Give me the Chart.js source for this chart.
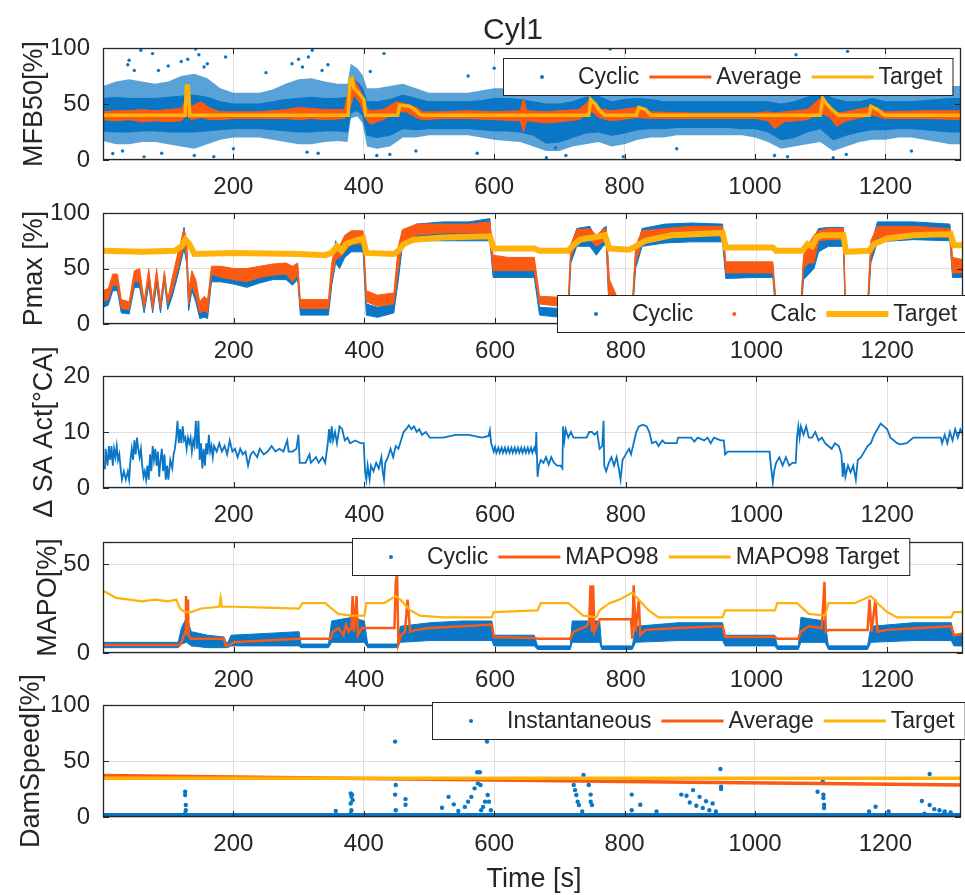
<!DOCTYPE html>
<html>
<head>
<meta charset="utf-8">
<title>Cyl1</title>
<script src="https://cdn.jsdelivr.net/npm/chart.js@4.4.1/dist/chart.umd.min.js"></script>
<style>
  body { margin: 0; background: #fff; width: 965px; height: 895px; position: relative; overflow: hidden;
         font-family: "Liberation Sans", Arial, Helvetica, sans-serif; color: #262626; }
  canvas { position: absolute; left: 0; }
  #title { position: absolute; left: 413px; top: 14px; width: 200px; text-align: center; font-size: 30px; line-height: 30px; z-index: 5; }
  #xlab { position: absolute; left: 434px; top: 865px; width: 200px; text-align: center; font-size: 27px; line-height: 27px; z-index: 5; }
</style>
</head>
<body>
<div id="title">Cyl1</div>
<div id="xlab">Time [s]</div>
<canvas id="p1"></canvas>
<canvas id="p2"></canvas>
<canvas id="p3"></canvas>
<canvas id="p4"></canvas>
<canvas id="p5"></canvas>
<script>
// ---- data (time in s) ----

const xTicks = [200, 400, 600, 800, 1000, 1200];

// MFB50 [%] : cyclic cloud (dense core + sparse outer), average trace range, target
const mfbT = [0,20,40,60,80,100,120,140,160,180,200,220,240,260,280,300,320,340,360,375,380,390,398,405,420,440,460,480,500,520,540,560,580,600,620,640,660,680,700,720,740,760,780,800,820,840,860,880,900,920,940,960,980,1000,1020,1040,1060,1080,1100,1120,1140,1160,1180,1200,1220,1240,1260,1280,1300,1320];
const mfbCoreLo = [26,25,25,26,26,25,25,25,26,27,28,28,28,27,26,25,25,26,26,25,42,44,40,22,20,22,28,27,28,28,28,28,27,26,26,25,22,15,16,20,24,25,22,24,27,28,28,29,29,29,29,29,28,28,25,18,20,25,28,18,22,25,27,27,28,28,27,26,25,25];
const mfbCoreHi = [55,56,55,55,55,56,57,58,56,52,50,50,50,52,54,55,56,55,55,56,72,70,64,52,52,54,58,55,52,52,52,52,53,55,55,54,52,50,50,52,56,57,52,54,55,54,52,52,52,52,52,52,52,52,52,50,52,56,60,55,52,52,55,52,52,52,53,54,55,55];
const mfbOutLo = [17,14,14,16,16,14,12,10,14,18,20,20,20,18,16,14,14,16,17,16,37,39,33,12,10,12,20,20,22,22,22,22,20,18,17,16,12,8,8,12,14,16,12,14,18,20,20,22,22,22,22,22,22,20,16,10,12,14,16,8,12,16,18,18,20,20,18,16,14,14];
const mfbOutHi = [66,70,72,70,68,70,75,77,73,64,60,60,60,63,68,72,73,70,68,68,86,82,76,64,64,66,68,64,60,60,60,60,62,64,64,62,60,58,58,60,64,66,60,62,64,62,60,60,60,60,60,60,60,60,60,60,62,66,70,64,60,60,63,62,60,60,62,64,66,66];
const mfbOutliers = [[15,5.8],[30,8],[38,85],[40,89],[48,80],[58,98],[63,2.8],[76,95],[85,80],[90,6],[100,84],[120,88],[130,90],[140,4],[142,99],[147,94],[155,83],[160,86],[170,3],[188,92],[200,10],[250,78],[290,86],[300,90],[306,83],[313,7],[315,92],[321,98],[330,6],[336,80],[345,85],[410,79],[420,4],[431,95],[440,5],[480,8],[560,75],[574,6],[600,82],[620,78],[668,76],[680,2],[694,11],[700,72],[710,4],[760,80],[778,99],[798,3],[820,78],[880,10],[930,74],[1000,75],[1030,4],[1050,3],[1063,94],[1110,82],[1120,2],[1140,5],[1142,97],[1150,80],[1200,76],[1240,8],[1290,80],[1300,78]];
const mfbAvgT = [0,20,40,60,80,100,120,128,135,150,165,180,200,240,280,300,320,340,370,378,385,395,402,410,430,450,465,480,490,520,560,600,640,645,650,680,700,730,748,760,780,820,840,900,1000,1020,1030,1045,1080,1100,1115,1125,1140,1180,1200,1260,1320];
const mfbAvgLo = [36,35,36,34,35,34,35,40,36,38,36,36,37,37,37,36,37,36,37,45,58,50,38,32,36,43,43,38,36,37,37,36,35,25,35,33,34,36,44,38,35,38,37,37,37,35,28,34,36,42,38,30,35,40,37,37,36];
const mfbAvgHi = [43,44,44,45,44,45,46,55,48,52,46,43,43,43,45,47,46,45,45,68,72,62,48,44,45,52,50,47,43,43,44,43,44,55,44,43,44,45,54,46,44,47,43,42,42,43,42,43,45,55,48,42,43,48,43,44,44];
const mfbTgtT = [0,126,128,131,133,376,379,382,385,392,400,403,452,455,470,478,485,490,745,748,755,762,770,818,822,832,840,1100,1104,1110,1118,1128,1175,1178,1188,1196,1200,1316];
const mfbTgtV = [40,40,66,66,40,40,72,73,64,60,54,40,40,49,48,45,41,40,40,54,50,44,40,40,47,45,40,40,55,50,45,40,40,48,45,41,40,40];

// Pmax [%] : cyclic and calc ranges, target
const pT = [0,8,15,22,28,40,48,56,63,70,76,82,88,94,99,106,115,124,128,131,136,142,148,155,160,166,180,200,220,240,260,280,290,298,302,345,350,356,362,370,380,398,403,420,445,452,458,480,520,560,592,597,620,660,668,700,712,716,725,745,755,765,770,775,790,810,815,825,860,900,948,953,1000,1025,1030,1068,1072,1080,1088,1095,1110,1133,1136,1170,1175,1185,1240,1296,1300,1316];
const pCalcLo = [20,22,35,35,14,13,38,38,14,40,13,40,14,42,18,30,50,72,60,18,35,25,10,12,10,45,42,40,38,42,44,45,38,44,14,14,40,58,60,65,72,72,20,16,18,50,75,80,82,82,82,48,48,48,18,16,16,60,75,76,70,74,76,10,12,12,55,74,78,80,80,46,46,46,12,12,50,55,55,75,76,76,12,12,60,78,80,78,46,46];
const pCalcHi = [30,32,45,45,22,20,48,50,20,50,20,50,20,48,22,42,65,85,75,30,48,40,20,25,22,52,52,50,50,52,54,55,52,55,22,22,55,72,70,80,84,84,30,26,28,70,85,90,90,90,92,62,60,60,25,24,24,72,85,86,80,85,86,40,20,20,70,84,86,88,88,56,56,56,20,20,62,72,80,84,86,86,22,20,75,88,88,86,60,58];
const pCycLo = [15,17,30,30,10,9,33,33,10,35,10,35,10,38,13,25,45,68,55,12,30,20,5,6,5,38,38,36,33,37,40,40,35,40,8,8,35,55,50,60,65,65,8,6,10,40,70,75,75,75,75,42,42,42,8,6,6,55,70,70,62,70,72,5,6,6,50,70,73,74,74,41,42,42,6,6,40,45,50,65,70,70,6,6,55,74,76,75,42,42];
const pCycHi = [28,30,42,42,18,17,45,46,17,46,17,46,17,45,20,38,60,87,72,28,44,36,15,18,15,48,46,45,44,46,48,48,47,48,14,14,50,75,65,75,82,80,18,15,18,65,82,90,92,92,95,56,55,56,15,14,14,70,86,88,75,86,88,30,14,14,65,86,90,91,90,52,52,52,14,14,58,70,78,86,87,87,14,14,70,92,92,90,56,56];
const pTgtT = [0,60,110,120,126,132,140,200,300,340,350,358,365,372,385,398,403,445,452,460,475,520,592,598,660,668,712,718,730,750,768,775,805,815,830,870,948,953,1025,1030,1070,1078,1085,1092,1100,1133,1137,1172,1180,1200,1240,1297,1302,1316];
const pTgtV = [66,65,66,70,76,72,63,64,63,62,64,70,66,72,75,77,64,63,66,72,76,78,79,68,68,66,66,70,76,78,80,68,67,70,75,80,82,69,69,66,66,72,70,78,80,80,65,66,72,77,80,81,71,71];

// Delta SA Act [degCA] : [time, value]
const saLine = [[0,3.5],[3,3.5],[4,7],[7,4],[9,7.5],[11,5],[13,7.5],[15,4],[17,7],[19,5.5],[21,7.5],[23,5],[25,6],[27,3.5],[29,1.5],[32,3],[35,1.5],[38,3],[40,1.5],[42,5],[44,7],[46,5],[48,8.5],[50,6],[52,9],[54,7],[56,5.5],[58,7],[60,4],[62,2],[64,3],[66,1.5],[68,4],[70,1.5],[72,6],[74,3],[76,7.5],[78,5],[80,7],[82,4],[84,6.5],[86,2],[88,5],[90,7],[92,3],[94,6],[96,1.5],[98,4],[100,1.5],[103,5],[106,3.5],[108,6],[110,7],[112,9],[114,12],[116,8],[118,10.5],[120,8],[122,11],[124,8.5],[126,9],[128,7],[130,9],[132,8],[134,9],[136,6.5],[138,8.5],[140,7.5],[142,12],[144,7],[146,12],[148,5],[150,8],[152,3.5],[154,7],[156,4],[158,8],[160,6],[162,9.5],[164,6.5],[166,7.5],[168,5.5],[170,7.5],[174,6.5],[178,8],[182,6.5],[186,7.5],[190,6],[194,8.5],[198,6.5],[202,7],[206,5.5],[210,7],[214,6],[218,6.5],[222,4],[226,6],[230,6.5],[236,5.5],[240,7],[246,6],[252,6.5],[258,7.5],[264,6.5],[270,7],[276,6.5],[282,8.5],[284,6.5],[290,6.5],[296,7],[299,9.5],[301,4.5],[310,4.5],[316,6],[318,4.5],[326,5.5],[330,4.5],[336,5.5],[340,4.5],[344,8],[346,10.5],[348,8],[350,11],[352,8.5],[355,10],[358,8],[362,11],[366,10.5],[370,8.5],[374,9],[378,8],[386,8.5],[394,8],[399,8],[401,3],[403,1.5],[405,4],[408,1.5],[410,4],[414,3],[418,4.5],[422,3.5],[426,5.5],[428,3],[430,1.5],[432,4.5],[436,5.5],[440,7],[444,5.5],[448,7.5],[452,7],[456,8.5],[460,10],[464,10.5],[468,11.2],[472,10.5],[476,11],[480,10],[484,10.5],[488,9.5],[494,10],[500,9],[520,9],[540,9.5],[560,9.5],[580,9],[590,9.3],[592,10.3],[594,8],[598,6.5],[600,7.3],[602,6.3],[605,7.2],[607,6.3],[610,7.2],[612,6.3],[615,7.2],[617,6.3],[620,7.2],[622,6.3],[625,7.2],[627,6.3],[630,7.2],[632,6.3],[635,7.2],[637,6.3],[640,7.2],[642,6.3],[645,7.2],[647,6.3],[650,7.2],[652,6.3],[655,7.2],[657,6.3],[660,7.2],[662,6.5],[663,10],[665,2],[667,4],[670,5],[674,4.5],[678,5.5],[682,4.2],[686,5.5],[690,4.5],[695,4],[700,4],[703,3.5],[704,11],[706,8.5],[708,10.5],[712,9],[716,10],[720,9],[730,9],[740,9],[744,10],[748,10],[752,9.5],[756,10],[760,7],[764,7.5],[766,12],[767,4],[770,3],[774,4.5],[778,5.5],[782,4],[786,5.5],[790,3],[792,1.5],[795,5],[800,6],[805,7],[808,6],[812,8],[816,10],[820,11],[826,11.3],[832,11],[836,10],[840,8],[846,8.3],[850,7.5],[856,8.5],[860,8],[878,8],[880,9],[900,9],[905,8.3],[910,9],[920,8.5],[925,9],[930,8],[935,9],[945,8.5],[950,8.5],[952,6],[956,6.5],[965,6.5],[1000,6.5],[1020,6.5],[1022,4],[1025,1],[1027,3],[1030,4.5],[1035,5.5],[1040,4],[1045,5.5],[1050,4],[1055,4.5],[1060,4.5],[1062,9],[1064,11],[1066,9],[1068,11],[1072,9.5],[1076,11],[1080,9],[1085,9],[1090,10],[1095,8.5],[1100,9],[1105,8],[1110,7.5],[1115,7],[1120,8],[1126,7.5],[1130,6],[1132,2],[1134,4.5],[1136,2],[1140,4],[1144,2.8],[1148,4],[1152,1.5],[1155,5],[1160,5.5],[1165,6.5],[1170,7.5],[1175,8],[1180,9.5],[1185,10.5],[1190,11.5],[1195,11],[1200,10.5],[1205,9],[1210,8.5],[1215,8],[1220,7.8],[1230,8],[1240,9],[1270,9],[1282,9],[1284,8],[1288,9.5],[1292,8],[1296,10],[1300,8.5],[1304,10.5],[1308,9],[1312,10.5],[1316,9.5]];

// MAPO [%] : cyclic range, MAPO98, MAPO98 target
const mapoT = [0,115,120,128,135,160,185,190,196,250,300,303,345,350,380,400,405,450,455,500,550,595,598,660,665,715,718,760,763,810,815,880,948,952,1028,1032,1064,1068,1105,1110,1170,1175,1240,1298,1302,1316];
const mapoLo = [3,3,5,6,4,3,3,3,4,4,4,3,3,6,6,6,3,3,6,7,7,7,4,4,2,2,6,6,2,2,6,7,7,4,4,2,2,6,6,2,2,6,7,7,4,4];
const mapoHi = [6,6,14,20,12,10,9,5,10,11,12,5,5,18,20,18,5,5,15,17,18,18,10,10,4,4,18,18,4,4,15,17,17,10,10,4,4,20,18,4,4,15,17,17,10,10];
const m98T = [0,118,122,126,127,128,130,131,134,185,188,196,200,250,300,348,352,360,368,372,376,380,382,384,388,390,396,402,446,448,450,452,456,462,466,470,480,500,550,595,598,660,665,715,720,740,744,746,748,750,752,760,808,810,812,815,820,822,830,880,948,952,1028,1032,1064,1068,1080,1100,1104,1106,1110,1170,1173,1176,1182,1185,1200,1250,1298,1302,1316];
const m98V = [4.5,4.5,8,12,32,10,30,10,8,8,4,5,6,7,8,8,12,14,10,16,12,14,32,12,32,10,14,14,14,40,44,5,10,12,30,12,13,14,15,16,9,8.5,8,8,12,15,18,38,12,38,12,19,19,8,38,12,30,10,13,14,15,9,9,8,8,12,15,14,40,12,13,13,30,12,30,12,13,14,15,10,11];
const m98TgtT = [0,10,20,40,60,80,100,112,118,125,135,150,178,180,182,200,250,300,305,340,350,360,380,400,403,430,448,455,470,485,520,595,598,665,670,712,735,755,760,775,790,810,820,835,850,948,952,1028,1032,1062,1080,1105,1110,1150,1175,1185,1200,1215,1298,1302,1316];
const m98TgtV = [35,33,31,30,29,30,29,30,25,23,23,25,26,31,26,26,25.5,25,28,28,25,22,21,21,28,28,32,30,24,21,20,20,23,24,28,28,21,20,24,28,30,34,30,24,20,20,24,24,28,28,22,21,28,28,32,28,23,20,20,23,23];

// DamSpeed [%] : instantaneous (mostly 0 plus scattered points), average, target
const dsBaseT = [0, 1316];
const dsBaseV = [0, 0];
const dsInst = [[126,22.7],[126,19.6],[127,10.7],[127,6.1],[126,3.1],[357,5.4],[380,21],[381,18],[380,12],[381,6],[380,3],[382,20],[383,15],[448,67.3],[449,28.6],[448,20],[449,6],[464,16],[464,11],[520,8.3],[530,18],[538,11.3],[545,5.4],[555,9],[560,13.7],[565,18],[570,25.6],[575,30],[578,40],[580,6],[583,9],[586,13.7],[589,67.3],[574,40],[579,28.6],[590,19.6],[592,13.7],[595,6],[722,28.6],[724,24],[726,19.6],[728,13.7],[730,10.7],[735,5],[737,37.5],[745,28.6],[748,20],[748,13.7],[750,10.7],[811,20],[811,6],[824,11],[849,5],[887,20],[895,19],[900,13],[905,24],[910,10],[915,18],[920,8],[925,14],[930,6],[935,12],[940,5],[947,42.9],[948,27],[948,25],[1096,22.6],[1104,31.5],[1105,20],[1105,17],[1106,11],[1106,8],[1175,5],[1185,9.2],[1205,5],[1256,14.3],[1268,38.4],[1268,10.7],[1275,7],[1283,6],[1291,5],[1260,3],[1290,3],[1300,4]];
const dsAvgT = [0, 300, 600, 900, 1100, 1316];
const dsAvgV = [37, 35, 33, 31, 30, 28.6];
const dsTgtT = [0, 1316];
const dsTgtV = [34.5, 34.5];

// ---- drawing ----

const FONT = '"Liberation Sans", Arial, Helvetica, sans-serif';
const INK = '#262626';
const GRID = '#dfdfdf';
const BLUE = '#0a76c6';
const BLUE_SOFT = 'rgba(10,118,198,0.68)';
const ORANGE = '#fa5a12';
const YELLOW = '#ffb30a';

Chart.defaults.font.family = FONT;

function xy(t, v) { return t.map((x, i) => ({ x: x, y: v[i] })); }
function xyPairs(p) { return p.map(q => ({ x: q[0], y: q[1] })); }

function band(t, lo, hi, color, order, edge) {
  return [
    { data: xy(t, lo), borderColor: edge ? color : 'transparent', borderWidth: 1, pointRadius: 0, order: order },
    { data: xy(t, hi), borderColor: edge ? color : 'transparent', borderWidth: 1, pointRadius: 0, order: order,
      fill: '-1', backgroundColor: color }
  ];
}
function line(t, v, color, w, order) {
  return { data: xy(t, v), borderColor: color, borderWidth: w, pointRadius: 0, order: order };
}
function dots(p, color, r, order) {
  return { data: xyPairs(p), showLine: false, pointRadius: r, pointBackgroundColor: color,
           pointBorderWidth: 0, order: order };
}

// box + inward ticks like the original axes
const frame = {
  id: 'frame',
  afterDatasetsDraw(chart) {
    const { ctx, chartArea: a, scales } = chart;
    ctx.save();
    ctx.strokeStyle = INK;
    ctx.lineWidth = 1;
    ctx.beginPath();
    scales.x.ticks.forEach(t => {
      const x = Math.round(scales.x.getPixelForValue(t.value)) + 0.5;
      ctx.moveTo(x, a.top); ctx.lineTo(x, a.top + 6);
      ctx.moveTo(x, a.bottom); ctx.lineTo(x, a.bottom - 6);
    });
    scales.y.ticks.forEach(t => {
      const y = Math.round(scales.y.getPixelForValue(t.value)) + 0.5;
      ctx.moveTo(a.left, y); ctx.lineTo(a.left + 6, y);
      ctx.moveTo(a.right, y); ctx.lineTo(a.right - 6, y);
    });
    ctx.stroke();
    ctx.lineWidth = 1.3;
    ctx.strokeRect(a.left + 0.5, a.top + 0.5, a.width - 1, a.height - 1);
    ctx.restore();
  }
};

function legendBox(spec) {
  return {
    id: 'mlLegend',
    afterDraw(chart) {
      if (!spec) return;
      const ctx = chart.ctx, a = chart.chartArea;
      ctx.save();
      ctx.font = '23px ' + FONT;
      let w = 8;
      spec.items.forEach(it => { w += 67 + ctx.measureText(it.label).width + 10; });
      const x0 = spec.left, y0 = a.top + spec.dy, h = 37;
      ctx.fillStyle = '#fff';
      ctx.fillRect(x0, y0, w, h);
      ctx.strokeStyle = INK;
      ctx.lineWidth = 1;
      ctx.strokeRect(x0 + 0.5, y0 + 0.5, w, h);
      let x = x0 + 8;
      const cy = y0 + h / 2 + 0.5;
      spec.items.forEach(it => {
        if (it.kind === 'dot') {
          ctx.fillStyle = it.color;
          ctx.beginPath(); ctx.arc(x + 31, cy, 2, 0, Math.PI * 2); ctx.fill();
        } else {
          ctx.strokeStyle = it.color; ctx.lineWidth = it.width;
          ctx.beginPath(); ctx.moveTo(x, cy); ctx.lineTo(x + 62, cy); ctx.stroke();
        }
        x += 67;
        ctx.fillStyle = INK;
        ctx.textBaseline = 'middle';
        ctx.fillText(it.label, x, cy + 1);
        x += ctx.measureText(it.label).width + 10;
      });
      ctx.restore();
    }
  };
}

function panel(id, top, h, y, datasets, legend) {
  const cv = document.getElementById(id);
  cv.width = 965;
  cv.height = h + 120;
  cv.style.top = (top - 60) + 'px';
  return new Chart(cv, {
    type: 'line',
    data: { datasets: datasets },
    options: {
      responsive: false,
      animation: false,
      devicePixelRatio: 1,
      events: [],
      layout: { padding: { top: 60, bottom: 20, left: 0, right: 2 } },
      plugins: { legend: { display: false }, tooltip: { enabled: false } },
      elements: { line: { tension: 0 } },
      scales: {
        x: {
          type: 'linear', min: 0, max: 1316,
          afterBuildTicks: s => { s.ticks = xTicks.map(v => ({ value: v })); },
          afterFit: s => { s.height = 40; },
          grid: { color: GRID, drawTicks: false },
          border: { display: false },
          ticks: { autoSkip: false, maxRotation: 0, padding: 13, color: INK, font: { size: 24 },
                   callback: v => String(v) }
        },
        y: {
          min: y.min, max: y.max,
          afterBuildTicks: s => { s.ticks = y.ticks.map(v => ({ value: v })); },
          afterFit: s => { s.width = 103; },
          grid: { color: GRID, drawTicks: false },
          border: { display: false },
          ticks: { padding: 13, color: INK, font: { size: 24 }, callback: v => String(v) },
          title: { display: true, text: y.title, color: INK, font: { size: 27 },
                   padding: { top: y.tp, bottom: 0 } }
        }
      }
    },
    plugins: [frame, legendBox(legend)]
  });
}

panel('p1', 48, 112,
  { min: 0, max: 100, ticks: [0, 50, 100], title: 'MFB50[%]', tp: 18 },
  [].concat(
    band(mfbT, mfbOutLo, mfbOutHi, BLUE_SOFT, 9, false),
    band(mfbT, mfbCoreLo, mfbCoreHi, BLUE, 8, true),
    [dots(mfbOutliers, BLUE, 1.7, 7)],
    band(mfbAvgT, mfbAvgLo, mfbAvgHi, ORANGE, 5, true),
    [line(mfbTgtT, mfbTgtV, YELLOW, 3.5, 1)]
  ),
  { left: 503, dy: 10, items: [
    { kind: 'dot', color: BLUE, label: 'Cyclic' },
    { kind: 'line', color: ORANGE, width: 3, label: 'Average' },
    { kind: 'line', color: YELLOW, width: 3, label: 'Target' }] });

panel('p2', 213, 111,
  { min: 0, max: 100, ticks: [0, 50, 100], title: 'Pmax [%]', tp: 18 },
  [].concat(
    band(pT, pCycLo, pCycHi, BLUE, 8, true),
    band(pT, pCalcLo, pCalcHi, ORANGE, 5, true),
    [line(pTgtT, pTgtV, YELLOW, 6, 1)]
  ),
  { left: 557, dy: 82, items: [
    { kind: 'dot', color: BLUE, label: 'Cyclic' },
    { kind: 'dot', color: ORANGE, label: 'Calc' },
    { kind: 'line', color: YELLOW, width: 6, label: 'Target' }] });

panel('p3', 376, 112,
  { min: 0, max: 20, ticks: [0, 10, 20], title: '\u0394 SA Act[\u00b0CA]', tp: 28 },
  [{ data: xyPairs(saLine), borderColor: BLUE, borderWidth: 1.8, pointRadius: 0, order: 1 }],
  null);

panel('p4', 542, 111,
  { min: 0, max: 62.4, ticks: [0, 50], title: 'MAPO[%]', tp: 32 },
  [].concat(
    band(mapoT, mapoLo, mapoHi, BLUE, 8, true),
    [line(m98T, m98V, ORANGE, 2.5, 5)],
    [line(m98TgtT, m98TgtV, YELLOW, 2.2, 1)]
  ),
  { left: 352, dy: -4, items: [
    { kind: 'dot', color: BLUE, label: 'Cyclic' },
    { kind: 'line', color: ORANGE, width: 3, label: 'MAPO98' },
    { kind: 'line', color: YELLOW, width: 3, label: 'MAPO98 Target' }] });

panel('p5', 705, 112,
  { min: 0, max: 100, ticks: [0, 50, 100], title: 'DamSpeed[%]', tp: 15 },
  [
    { data: xy(dsBaseT, dsBaseV), borderColor: BLUE, borderWidth: 8, pointRadius: 0, clip: 0, order: 8 },
    dots(dsInst, BLUE, 2.2, 7),
    line(dsAvgT, dsAvgV, ORANGE, 3.5, 5),
    line(dsTgtT, dsTgtV, YELLOW, 3.5, 1)
  ],
  { left: 432, dy: -3, items: [
    { kind: 'dot', color: BLUE, label: 'Instantaneous' },
    { kind: 'line', color: ORANGE, width: 3, label: 'Average' },
    { kind: 'line', color: YELLOW, width: 3, label: 'Target' }] });
</script>
</body>
</html>
